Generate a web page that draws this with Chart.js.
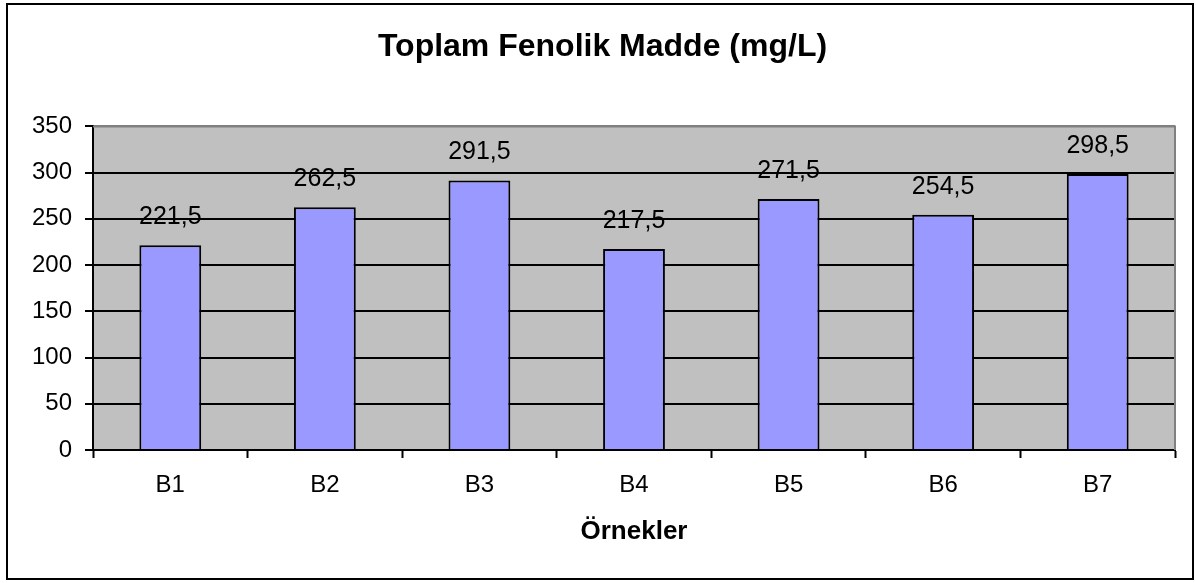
<!DOCTYPE html>
<html lang="tr">
<head>
<meta charset="utf-8">
<title>Toplam Fenolik Madde</title>
<script src="https://cdn.jsdelivr.net/npm/chart.js@4/dist/chart.umd.min.js"></script>
<style>
    html, body { margin: 0; padding: 0; background: #ffffff; }
    #wrap { width: 1196px; height: 583px; position: relative; }
</style>
</head>
<body>
<div id="wrap"><canvas id="fenolik-chart" width="1196" height="583"></canvas></div>
<script>
// 數據
const categories = ['B1', 'B2', 'B3', 'B4', 'B5', 'B6', 'B7'];
const values = [221.5, 262.5, 291.5, 217.5, 271.5, 254.5, 298.5];
const yTicks = [0, 50, 100, 150, 200, 250, 300, 350];
const chartTitle = 'Toplam Fenolik Madde (mg/L)';
const xTitle = 'Örnekler';

const FONT = '"Liberation Sans", Arial, sans-serif';

// 繪圖區背景與外框
const plotAreaPlugin = {
    id: 'plotArea',
    beforeDraw(chart) {
        const { ctx, chartArea: a } = chart;
        ctx.save();
        ctx.fillStyle = '#ffffff';
        ctx.fillRect(0, 0, chart.width, chart.height);
        ctx.fillStyle = '#c0c0c0';
        ctx.fillRect(a.left, a.top, a.right - a.left, a.bottom - a.top);
        ctx.restore();
    },
    beforeDatasetsDraw(chart) {
        const { ctx, chartArea: a } = chart;
        ctx.save();
        ctx.strokeStyle = '#808080';
        ctx.lineWidth = 2;
        ctx.beginPath();
        ctx.moveTo(a.left, a.top);
        ctx.lineTo(a.right, a.top);
        ctx.lineTo(a.right, a.bottom);
        ctx.stroke();
        ctx.restore();
    },
    afterDraw(chart) {
        const { ctx } = chart;
        ctx.save();
        ctx.strokeStyle = '#000000';
        ctx.lineWidth = 2;
        ctx.strokeRect(7, 4, 1186, 575);
        ctx.restore();
    }
};

// 柱上數值標籤
const valueLabelPlugin = {
    id: 'valueLabels',
    afterDatasetsDraw(chart) {
        const { ctx } = chart;
        const meta = chart.getDatasetMeta(0);
        ctx.save();
        ctx.font = '25px ' + FONT;
        ctx.fillStyle = '#000000';
        ctx.textAlign = 'center';
        ctx.textBaseline = 'alphabetic';
        meta.data.forEach((bar, i) => {
            const text = String(values[i]).replace('.', ',');
            ctx.fillText(text, bar.x, bar.y - 21);
        });
        ctx.restore();
    }
};

const ctx = document.getElementById('fenolik-chart').getContext('2d');

new Chart(ctx, {
    type: 'bar',
    data: {
        labels: categories,
        datasets: [{
            data: values,
            backgroundColor: '#9999ff',
            borderColor: '#000000',
            borderWidth: 2,
            barPercentage: 0.4,
            categoryPercentage: 1.0
        }]
    },
    options: {
        responsive: false,
        animation: false,
        devicePixelRatio: 1,
        layout: {
            padding: { left: 15, right: 6, top: 0, bottom: 0 }
        },
        plugins: {
            legend: { display: false },
            tooltip: { enabled: false },
            title: {
                display: true,
                text: chartTitle,
                color: '#000000',
                font: { family: FONT, size: 32, weight: 'bold' },
                padding: { top: 28, bottom: 60 }
            }
        },
        scales: {
            x: {
                grid: {
                    offset: true,
                    drawOnChartArea: false,
                    drawTicks: true,
                    tickLength: 8,
                    tickColor: '#000000',
                    tickWidth: 2
                },
                border: { color: '#000000', width: 2 },
                ticks: {
                    color: '#000000',
                    font: { family: FONT, size: 24 },
                    padding: 13,
                    maxRotation: 0
                },
                title: {
                    display: true,
                    text: xTitle,
                    color: '#000000',
                    font: { family: FONT, size: 26, weight: 'bold' },
                    padding: { top: 0, bottom: 36 }
                },
                afterFit(scale) {
                    scale.height = 133;
                }
            },
            y: {
                min: 0,
                max: 350,
                afterBuildTicks(scale) {
                    scale.ticks = yTicks.map(v => ({ value: v }));
                },
                grid: {
                    color: c => (c.tick && c.tick.value === 350 ? '#808080' : '#000000'),
                    lineWidth: 2,
                    drawTicks: true,
                    tickLength: 8,
                    tickColor: '#000000',
                    tickWidth: 2
                },
                border: { color: '#000000', width: 2 },
                ticks: {
                    color: '#000000',
                    font: { family: FONT, size: 24 },
                    padding: 13
                },
                afterFit(scale) {
                    scale.width = 78;
                }
            },
            // 右側空白軸，只用來留出右邊距
            yRight: {
                position: 'right',
                min: 0,
                max: 350,
                grid: { display: false },
                border: { display: false },
                ticks: { display: false },
                afterFit(scale) {
                    scale.width = 15;
                }
            }
        }
    },
    plugins: [plotAreaPlugin, valueLabelPlugin]
});
</script>
</body>
</html>
